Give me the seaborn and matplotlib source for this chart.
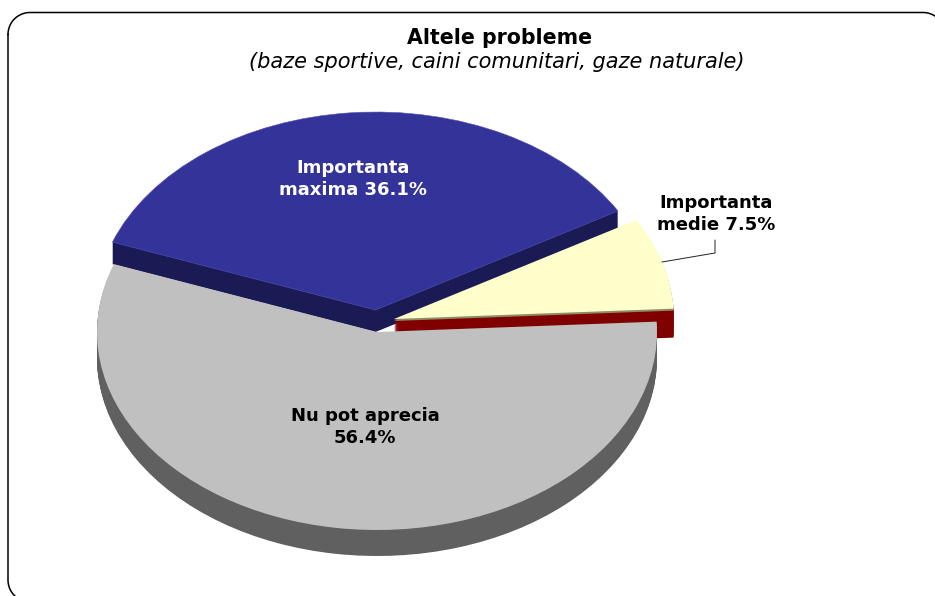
import matplotlib
matplotlib.use("Agg")
import matplotlib.pyplot as plt
import numpy as np
import seaborn as sns

# --- data ---
SLICE_NAMES = ["Importanta medie", "Importanta maxima", "Nu pot aprecia"]
SLICE_VALUES = [7.5, 36.1, 56.4]
TITLE = "Altele probleme"
SUBTITLE = "(baze sportive, caini comunitari, gaze naturale)"

# --- style ---
sns.set_theme(style="white")
plt.rcParams["font.family"] = ["DejaVu Sans"]
TOP_COLORS = sns.color_palette(["#FFFFCC", "#333399", "#C0C0C0"])
SIDE_COLORS = sns.color_palette(["#800000", "#1A1A55", "#606060"])
EDGE_YELLOW = "#8C8C66"

W, H = 935, 596
RX, RY = 280.0, 198.0
CX, CY = 377.0, 320.0
APEX = [(394, 319), (375.5, 310), (377, 332)]
DEPTH = [29, 22, 26]
DRAW_ORDER = [1, 0, 2]
START = 3


def ux(px):
    return (px - CX) / RX


def uy(py):
    return (CY - py) / RY


fig = plt.figure(figsize=(W / 100, H / 100), dpi=100, facecolor="white")
ax = fig.add_axes([0, 0, 1, 1])


def draw_slice(i, offset_px, color):
    colors = ["none"] * len(SLICE_VALUES)
    colors[i] = color
    ax_wedges, _ = ax.pie(
        SLICE_VALUES,
        colors=colors,
        startangle=START,
        counterclock=True,
        radius=1.0,
        center=(ux(APEX[i][0]), uy(APEX[i][1] + offset_px)),
        wedgeprops={"linewidth": 0},
        frame=True,
    )
    return ax_wedges[i]


for i in DRAW_ORDER:
    for k in range(DEPTH[i], 0, -1):
        c = SIDE_COLORS[i]
        if i == 0 and k <= 2:
            c = EDGE_YELLOW
        draw_slice(i, k, c)
    w = draw_slice(i, 0, TOP_COLORS[i])
    if i == 1:
        w.set_edgecolor("#5555B0")
        w.set_linewidth(0.4)

ax.set_aspect("auto")
ax.set_xlim(ux(0), ux(W))
ax.set_ylim(uy(H), uy(0))
ax.set_xticks([])
ax.set_yticks([])
for s in ax.spines.values():
    s.set_visible(False)

# overlay in pixel coordinates
ov = fig.add_axes([0, 0, 1, 1], facecolor="none")
ov.set_xlim(0, W)
ov.set_ylim(H, 0)
ov.axis("off")

# rounded frame running off the right and bottom of the picture
L, T, R, B, RAD = 8.0, 12.5, 945.0, 602.0, 22.0
t = np.linspace(0, np.pi / 2, 24)
fx = np.concatenate([L + RAD - RAD * np.cos(t), R - RAD + RAD * np.sin(t),
                     R - RAD + RAD * np.cos(t), L + RAD - RAD * np.sin(t), [L]])
fy = np.concatenate([T + RAD - RAD * np.sin(t), T + RAD - RAD * np.cos(t),
                     B - RAD + RAD * np.sin(t), B - RAD + RAD * np.cos(t), [T + RAD]])
ov.plot(fx, fy, color="black", lw=1.1)

ov.plot([662, 715, 715], [262, 253, 240], color="#222222", lw=0.7)

ov.text(500, 38.5, TITLE, ha="center", va="center", fontsize=14.8, fontweight="bold", color="black")
ov.text(497, 62, SUBTITLE, ha="center", va="center", fontsize=15, fontstyle="italic", color="black")

medie, maxima, nupot = SLICE_NAMES
LBL = dict(ha="center", va="center", fontsize=13, fontweight="bold", linespacing=1.25)
ov.text(353, 179, f"{maxima.split()[0]}\n{maxima.split()[1]} {SLICE_VALUES[1]}%", color="white", **LBL)
ov.text(716, 214, f"{medie.split()[0]}\n{medie.split()[1]} {SLICE_VALUES[0]}%", color="black", **LBL)
ov.text(365, 427, f"{nupot}\n{SLICE_VALUES[2]}%", color="black", **LBL)

fig.savefig("out.png", dpi=100, facecolor="white")
